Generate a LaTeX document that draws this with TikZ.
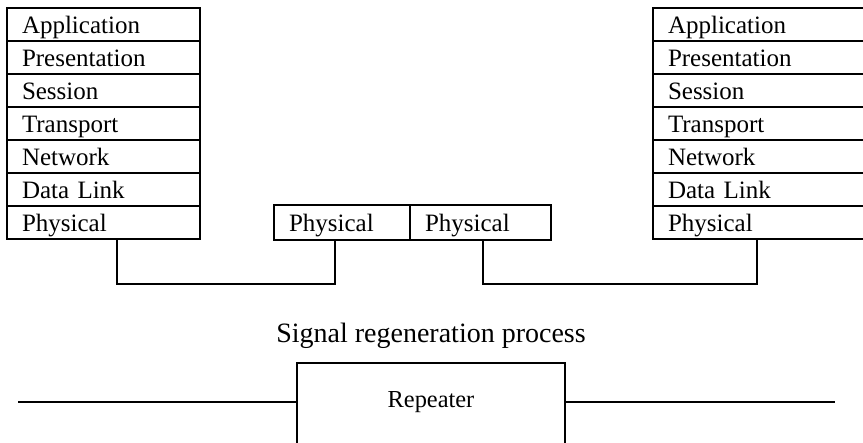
\documentclass[tikz,border=0pt]{standalone}
\usepackage{fontspec}
\setmainfont{Liberation Serif}
\usetikzlibrary{positioning,calc}

\begin{document}
\begin{tikzpicture}[x=1pt,y=1pt,
  layer/.style={draw, line width=1.2pt, rectangle, minimum height=33pt, inner ysep=0pt,
    inner xsep=15pt, outer sep=0pt, text width=163pt, align=left, text height=20pt, text depth=2pt,
    font=\fontsize{25}{30}\selectfont},
  frame/.style={line width=2.4pt},
  wire/.style={line width=1.6pt}]
\clip (0,0) rectangle (863,443);

% left stack
\node[layer, anchor=north west] (l1) at (7,435) {Application};
\node[layer, below=0pt of l1] (l2) {Presentation};
\node[layer, below=0pt of l2] (l3) {Session};
\node[layer, below=0pt of l3] (l4) {Transport};
\node[layer, below=0pt of l4] (l5) {Network};
\node[layer, below=0pt of l5] (l6) {Data Link};
\node[layer, below=0pt of l6] (l7) {Physical};
\draw[frame] (l1.north west) rectangle (l7.south east);

% right stack
\node[layer, text width=185pt, anchor=north west] (r1) at (653,435) {Application};
\node[layer, text width=185pt, below=0pt of r1] (r2) {Presentation};
\node[layer, text width=185pt, below=0pt of r2] (r3) {Session};
\node[layer, text width=185pt, below=0pt of r3] (r4) {Transport};
\node[layer, text width=185pt, below=0pt of r4] (r5) {Network};
\node[layer, text width=185pt, below=0pt of r5] (r6) {Data Link};
\node[layer, text width=185pt, below=0pt of r6] (r7) {Physical};
\draw[frame] (r1.north west) rectangle (r7.south east);

% repeater physical layers
\node[layer, text width=106pt, minimum height=35pt, anchor=north west] (mleft) at (274,238) {Physical};
\node[layer, text width=111pt, minimum height=35pt, right=0pt of mleft] (mright) {Physical};
\draw[frame] (mleft.north west) rectangle (mright.south east);

\draw[wire] ($(l7.south west)+(110,0)$) -- ++(0,-45) -| ($(mleft.south west)+(61,0)$);
\draw[wire] ($(mright.south west)+(73,0)$) -- ++(0,-44) -| ($(r7.south west)+(104,0)$);

\node[anchor=base, font=\fontsize{28}{33}\selectfont] (sig) at (431,100) {Signal regeneration process};

% repeater
\node[minimum width=268pt, minimum height=78pt, font=\fontsize{24.4}{29}\selectfont] (rep) at (431,41) {Repeater};
\draw[frame] (rep.south west) ++(0,-40) |- (rep.north east) -- ++(0,-120);
\coordinate (lin) at (18,41);
\coordinate (lout) at (835,41);
\draw[wire] (lin) -- (rep.west);
\draw[wire] (rep.east) -- (lout);
\end{tikzpicture}
\end{document}
